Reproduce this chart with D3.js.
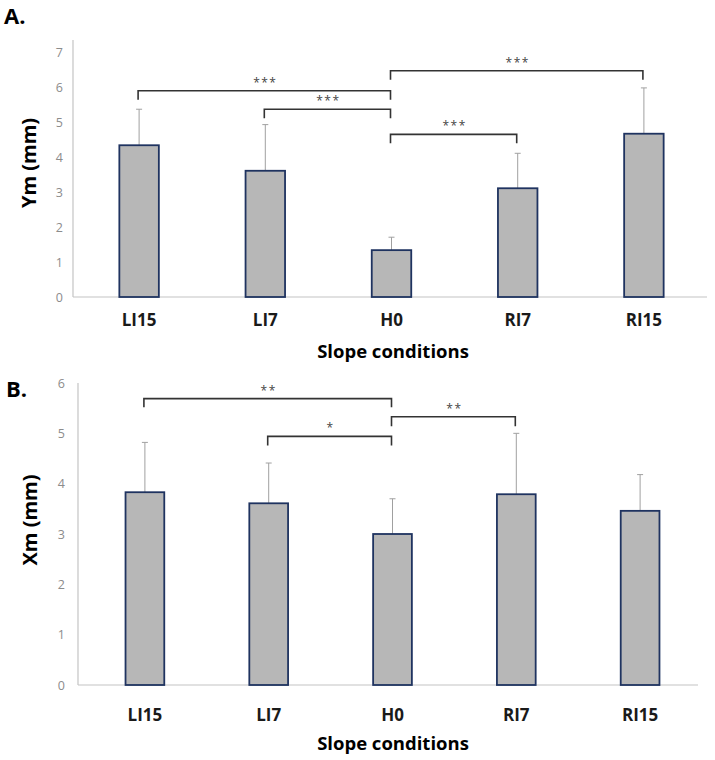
<!DOCTYPE html>
<html>
<head>
<meta charset="utf-8">
<script src="https://cdn.jsdelivr.net/npm/d3@7"></script>
<style>
  body { margin: 0; background: #fff; }
  svg { display: block; font-family: 'Open Sans', sans-serif; }
</style>
</head>
<body>
<svg id="chart" width="715" height="760"></svg>
<script>
const conditions = ['LI15', 'LI7', 'H0', 'RI7', 'RI15'];

// Panel A: Ym (mm)
const ymMeans = [4.34, 3.61, 1.34, 3.11, 4.67];
const ymErrTops = [5.37, 4.93, 1.71, 4.11, 5.98];
const ymTicks = [0, 1, 2, 3, 4, 5, 6, 7];
// [from, to, bracket level, leg end level, stars]
const ymSig = [
  ['LI15', 'H0', 5.9, 5.64, '***'],
  ['LI7', 'H0', 5.37, 5.11, '***'],
  ['H0', 'RI15', 6.47, 6.21, '***'],
  ['H0', 'RI7', 4.65, 4.4, '***']
];

// Panel B: Xm (mm)
const xmMeans = [3.83, 3.61, 3.0, 3.79, 3.46];
const xmErrTops = [4.82, 4.41, 3.70, 5.0, 4.18];
const xmTicks = [0, 1, 2, 3, 4, 5, 6];
const xmSig = [
  ['LI15', 'H0', 5.69, 5.52, '**'],
  ['LI7', 'H0', 4.94, 4.76, '*'],
  ['H0', 'RI7', 5.33, 5.14, '**']
];

const svg = d3.select('#chart');

const drawPanel = (opts) => {
  const g = svg.append('g');
  const pad = 0.687;

  const x = d3.scaleBand()
    .domain(conditions)
    .range(opts.xRange)
    .paddingInner(pad)
    .paddingOuter(pad / 2);

  const y = d3.scaleLinear()
    .domain(opts.yDomain)
    .range(opts.yRange);

  // axes lines
  g.append('line')
    .attr('x1', opts.axisX).attr('x2', opts.axisX)
    .attr('y1', y(0)).attr('y2', opts.yRange[1])
    .attr('stroke', '#c4c4c4').attr('stroke-width', 1.2);
  g.append('line')
    .attr('x1', opts.axisX).attr('x2', opts.axisEnd)
    .attr('y1', y(0)).attr('y2', y(0))
    .attr('stroke', '#c4c4c4').attr('stroke-width', 1.2);

  // y tick labels only
  const yAxis = g.append('g')
    .attr('transform', `translate(${opts.axisX},0)`)
    .call(d3.axisLeft(y).tickValues(opts.ticks).tickFormat(d3.format('d'))
      .tickSize(0).tickPadding(opts.tickPad));
  yAxis.select('.domain').remove();
  yAxis.selectAll('text')
    .attr('fill', '#8c8c8c')
    .style('font-size', '12.5px')
    .style('font-family', "'Open Sans', sans-serif");

  // category labels
  const xAxis = g.append('g')
    .attr('transform', `translate(0,${y(0)})`)
    .call(d3.axisBottom(x).tickSize(0).tickPadding(opts.catPad));
  xAxis.select('.domain').remove();
  xAxis.selectAll('text')
    .attr('fill', '#1a1a1a')
    .style('font-size', '17px')
    .style('font-weight', 'bold')
    .style('font-family', "'Open Sans', sans-serif");

  // error bars (upper only)
  const cx = (d) => x(d) + x.bandwidth() / 2;
  g.selectAll('.err')
    .data(conditions)
    .join('line')
    .attr('x1', cx).attr('x2', cx)
    .attr('y1', (d, i) => y(opts.means[i]))
    .attr('y2', (d, i) => y(opts.errTops[i]))
    .attr('stroke', '#a0a0a0').attr('stroke-width', 1);
  g.selectAll('.cap')
    .data(conditions)
    .join('line')
    .attr('x1', (d) => cx(d) - 3).attr('x2', (d) => cx(d) + 3)
    .attr('y1', (d, i) => y(opts.errTops[i]))
    .attr('y2', (d, i) => y(opts.errTops[i]))
    .attr('stroke', '#a0a0a0').attr('stroke-width', 1);

  g.selectAll('.bar')
    .data(conditions)
    .join('rect')
    .attr('x', (d) => x(d))
    .attr('width', x.bandwidth())
    .attr('y', (d, i) => y(opts.means[i]))
    .attr('height', (d, i) => y(0) - y(opts.means[i]))
    .attr('fill', '#b7b7b7')
    .attr('stroke', '#1f3360')
    .attr('stroke-width', 1.8);

  // significance brackets
  const sig = g.selectAll('.sig')
    .data(opts.sig)
    .join('g');
  sig.append('path')
    .attr('d', (d) => {
      const x1 = cx(d[0]) - 1;
      const x2 = cx(d[1]) - 1;
      return `M${x1},${y(d[3])}V${y(d[2])}H${x2}V${y(d[3])}`;
    })
    .attr('fill', 'none')
    .attr('stroke', '#333')
    .attr('stroke-width', 1.6);
  sig.append('text')
    .attr('x', (d) => (cx(d[0]) + cx(d[1])) / 2)
    .attr('y', (d) => y(d[2]) - 4)
    .attr('text-anchor', 'middle')
    .attr('fill', '#444')
    .style('font-size', '12px')
    .style('letter-spacing', '1.5px')
    .text((d) => d[4]);

  // titles
  g.append('text')
    .attr('transform', `translate(${opts.yTitleX},${opts.yTitleY}) rotate(-90)`)
    .attr('text-anchor', 'middle')
    .attr('dominant-baseline', 'middle')
    .style('font-size', '20px')
    .style('font-weight', 'bold')
    .text(opts.yTitle);
  g.append('text')
    .attr('x', 393)
    .attr('y', opts.xTitleY)
    .attr('text-anchor', 'middle')
    .attr('dominant-baseline', 'middle')
    .style('font-size', '18.5px')
    .style('font-weight', 'bold')
    .text('Slope conditions');
  g.append('text')
    .attr('x', opts.panelX)
    .attr('y', opts.panelY)
    .style('font-size', '22px')
    .style('font-weight', 'bold')
    .text(opts.panel);
};

drawPanel({
  panel: 'A.', panelX: 4, panelY: 24,
  means: ymMeans, errTops: ymErrTops, ticks: ymTicks, sig: ymSig,
  xRange: [76, 707], axisX: 73, axisEnd: 707,
  yDomain: [0, 7.35], yRange: [297, 40],
  tickPad: 10, catPad: 17,
  yTitle: 'Ym (mm)', yTitleX: 31, yTitleY: 163,
  xTitleY: 353
});

drawPanel({
  panel: 'B.', panelX: 6, panelY: 397,
  means: xmMeans, errTops: xmErrTops, ticks: xmTicks, sig: xmSig,
  xRange: [83, 702], axisX: 78, axisEnd: 698,
  yDomain: [0, 6], yRange: [685, 383],
  tickPad: 13, catPad: 24,
  yTitle: 'Xm (mm)', yTitleX: 32, yTitleY: 520,
  xTitleY: 745
});
</script>
</body>
</html>
